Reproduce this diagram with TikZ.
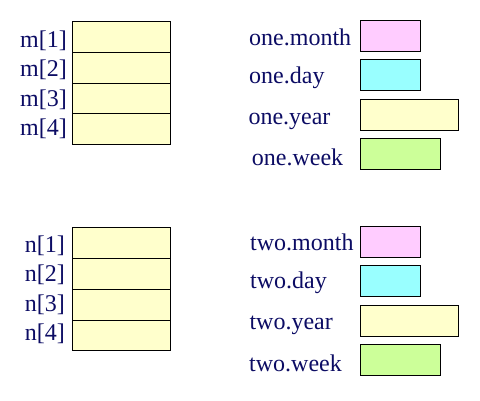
\documentclass[tikz,border=0pt]{standalone}
\usepackage{fontspec}
\setmainfont{Liberation Serif}
\definecolor{labelcol}{RGB}{12,12,100}
\definecolor{pinkfill}{RGB}{255,204,255}
\definecolor{cyanfill}{RGB}{153,255,255}
\definecolor{yellowfill}{RGB}{255,255,204}
\definecolor{greenfill}{RGB}{204,255,153}
\begin{document}
\begin{tikzpicture}[x=1pt,y=-1pt,
  cell/.style={draw=black,line width=1pt,fill=yellowfill,rectangle,inner sep=0pt,
    minimum width=98pt,minimum height=30.75pt,anchor=north west},
  field/.style={draw=black,line width=1pt,rectangle,inner sep=0pt,
    minimum height=31pt,anchor=north west},
  lbl/.style={inner sep=0pt,text=labelcol,font=\fontsize{24}{28}\selectfont},
  lblr/.style={lbl,anchor=base east},
  lbll/.style={lbl,anchor=base west}]
\useasboundingbox (0,0) rectangle (480,400);
% array m
\node[cell] (m1) at (72,21) {};
\node[cell] (m2) at (72,51.75) {};
\node[cell] (m3) at (72,82.5) {};
\node[cell] (m4) at (72,113.25) {};
\node[lblr] (lm1) at (67,47.3) {m[1]};
\node[lblr] (lm2) at (67,76.7) {m[2]};
\node[lblr] (lm3) at (67,106) {m[3]};
\node[lblr] (lm4) at (67,135) {m[4]};
% array n
\node[cell] (n1) at (72,227.3) {};
\node[cell] (n2) at (72,258.05) {};
\node[cell] (n3) at (72,288.8) {};
\node[cell] (n4) at (72,319.55) {};
\node[lblr] (ln1) at (65,252.3) {n[1]};
\node[lblr] (ln2) at (65,281.7) {n[2]};
\node[lblr] (ln3) at (65,311) {n[3]};
\node[lblr] (ln4) at (65,340) {n[4]};
% struct one
\node[field,fill=pinkfill,minimum width=59.5pt] (om) at (360.3,20.3) {};
\node[field,fill=cyanfill,minimum width=59.5pt] (od) at (360.3,59.3) {};
\node[field,fill=yellowfill,minimum width=97.5pt] (oy) at (360.3,99.3) {};
\node[field,fill=greenfill,minimum width=79.5pt] (ow) at (360.3,138.3) {};
\node[lbll] (lom) at (249,45) {one.month};
\node[lbll] (lod) at (249,83.3) {one.day};
\node[lbll] (loy) at (248.3,124.3) {one.year};
\node[lbll] (low) at (251.7,165) {one.week};
% struct two
\node[field,fill=pinkfill,minimum width=59.5pt] (tm) at (360.3,226.3) {};
\node[field,fill=cyanfill,minimum width=59.5pt] (td) at (360.3,265.3) {};
\node[field,fill=yellowfill,minimum width=97.5pt] (ty) at (360.3,305.3) {};
\node[field,fill=greenfill,minimum width=79.5pt] (tw) at (360.3,344.3) {};
\node[lbll] (ltm) at (250,250) {two.month};
\node[lbll] (ltd) at (250,288.3) {two.day};
\node[lbll] (lty) at (249.3,329.3) {two.year};
\node[lbll] (ltw) at (249,371) {two.week};
\end{tikzpicture}
\end{document}
